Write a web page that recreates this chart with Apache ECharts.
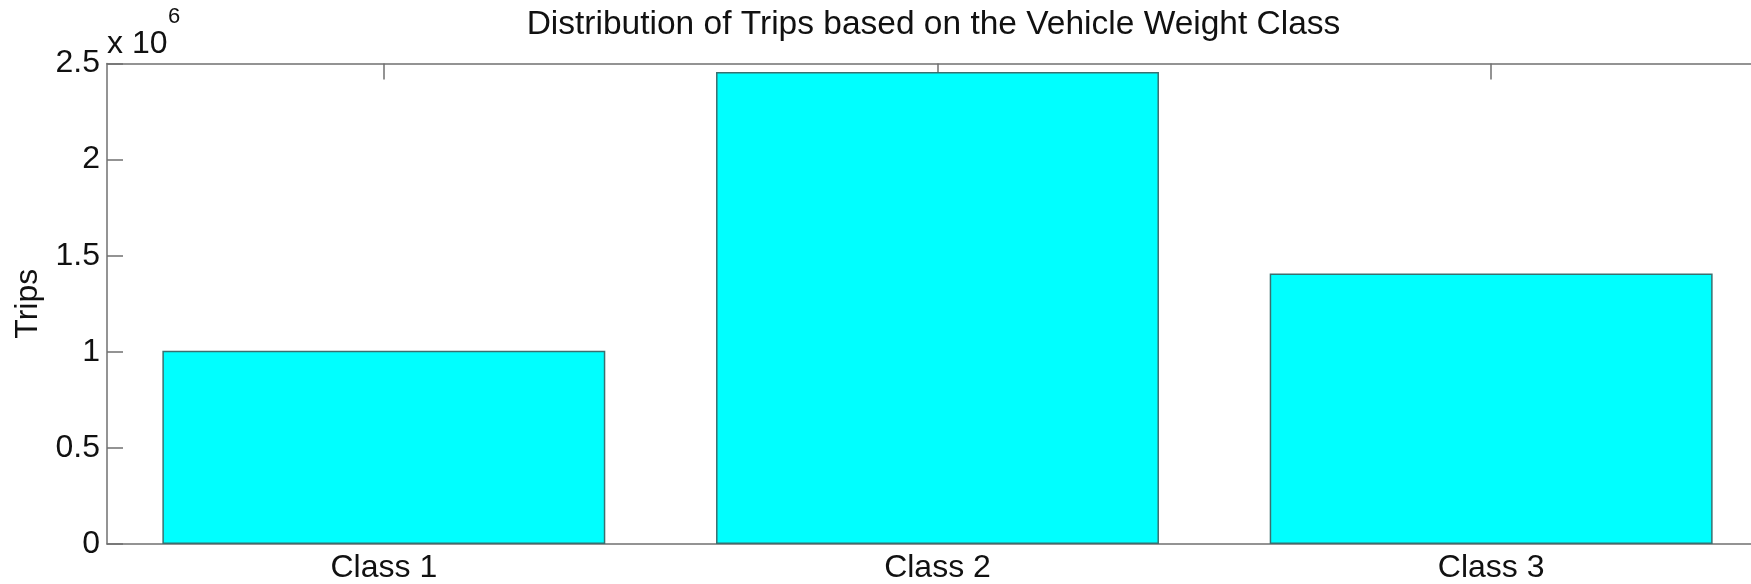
<!DOCTYPE html>
<html>
<head>
<meta charset="utf-8">
<script src="https://cdn.jsdelivr.net/npm/echarts@6/dist/echarts.min.js"></script>
<style>
html,body{margin:0;padding:0;background:#fff;overflow:hidden;width:1751px;height:584px;}
#chart{width:1800px;height:584px;}
</style>
</head>
<body>
<div id="chart"></div>
<script>
const categories = ['Class 1', 'Class 2', 'Class 3'];
const trips = [1005000, 2456000, 1408000];
const yTicks = [0, 0.5, 1, 1.5, 2, 2.5]; // x 10^6
const titleText = 'Distribution of Trips based on the Vehicle Weight Class';

const FONT = "'Liberation Sans', Arial, Helvetica, sans-serif";
const AXIS_COLOR = '#707070';
const TEXT_COLOR = '#111';
const SCALE = 1e6;
const TITLE_SIZE = 33.5;

// centre the title over the plot area
const GRID_LEFT = 107, GRID_WIDTH = 1661;
const ctx = document.createElement('canvas').getContext('2d');
ctx.font = TITLE_SIZE + 'px ' + FONT;
const titleW = ctx.measureText(titleText).width;
const titleLeft = GRID_LEFT + GRID_WIDTH / 2 - 4 - titleW / 2;

const chart = echarts.init(document.getElementById('chart'), null, {renderer: 'canvas'});

const axisLine = {show: true, onZero: false, lineStyle: {color: AXIS_COLOR, width: 1.5}};
const yTick = {show: true, inside: true, length: 16, lineStyle: {color: AXIS_COLOR, width: 1.5}};

chart.setOption({
  backgroundColor: '#fff',
  animation: false,
  textStyle: {fontFamily: FONT},
  title: {
    text: titleText,
    left: titleLeft,
    top: 8,
    padding: 0,
    textStyle: {fontFamily: FONT, fontSize: TITLE_SIZE, fontWeight: 'normal', color: TEXT_COLOR}
  },
  grid: {left: GRID_LEFT, top: 63.5, width: GRID_WIDTH, height: 480.5, containLabel: false},
  xAxis: [{
    type: 'category',
    data: categories,
    position: 'bottom',
    boundaryGap: true,
    axisLine: axisLine,
    axisTick: {show: true, inside: true, alignWithLabel: true, length: 16, lineStyle: {color: AXIS_COLOR, width: 1.5}},
    axisLabel: {fontFamily: FONT, fontSize: 32, color: TEXT_COLOR, margin: 8},
    splitLine: {show: false}
  }, {
    type: 'category',
    data: categories,
    position: 'top',
    boundaryGap: true,
    axisLine: axisLine,
    axisTick: {show: true, inside: true, alignWithLabel: true, length: 16, lineStyle: {color: AXIS_COLOR, width: 1.5}},
    axisLabel: {show: false},
    splitLine: {show: false}
  }],
  yAxis: [{
    type: 'value',
    position: 'left',
    min: yTicks[0] * SCALE,
    max: yTicks[yTicks.length - 1] * SCALE,
    interval: (yTicks[1] - yTicks[0]) * SCALE,
    name: 'Trips',
    nameLocation: 'middle',
    nameGap: 60,
    nameTextStyle: {fontFamily: FONT, fontSize: 32, color: TEXT_COLOR},
    axisLine: axisLine,
    axisTick: yTick,
    axisLabel: {
      fontFamily: FONT, fontSize: 32, color: TEXT_COLOR, margin: 7,
      formatter: v => String(+(v / SCALE).toFixed(2))
    },
    splitLine: {show: false}
  }, {
    type: 'value',
    position: 'right',
    min: yTicks[0] * SCALE,
    max: yTicks[yTicks.length - 1] * SCALE,
    interval: (yTicks[1] - yTicks[0]) * SCALE,
    axisLine: axisLine,
    axisTick: yTick,
    axisLabel: {show: false},
    splitLine: {show: false}
  }],
  graphic: [{
    type: 'text',
    left: 107,
    top: 28,
    style: {text: 'x 10', font: '32px ' + FONT, fill: TEXT_COLOR}
  }, {
    type: 'text',
    left: 168,
    top: 6,
    style: {text: '6', font: '22px ' + FONT, fill: TEXT_COLOR}
  }],
  series: [{
    type: 'bar',
    data: trips,
    barWidth: '80%',
    xAxisIndex: 0,
    yAxisIndex: 0,
    itemStyle: {color: '#00FFFF', borderColor: '#3a7070', borderWidth: 1.5},
    emphasis: {disabled: true}
  }]
});
</script>
</body>
</html>
